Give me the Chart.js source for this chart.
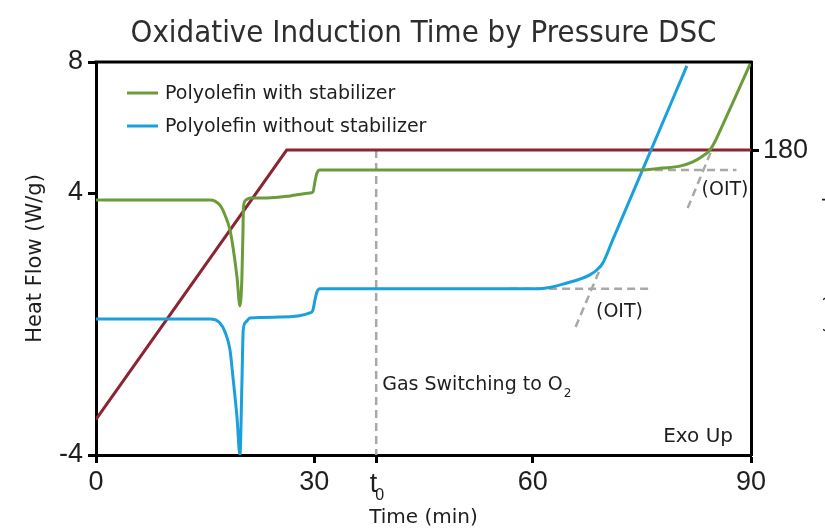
<!DOCTYPE html>
<html><head><meta charset="utf-8">
<script src="https://cdn.jsdelivr.net/npm/chart.js@4.4.0/dist/chart.umd.min.js"></script>
<style>html,body{margin:0;padding:0;background:#fff;}</style>
</head><body>
<canvas id="c" width="825" height="532"></canvas>
<script>
// ---- data ----
const chartTitle = 'Oxidative Induction Time by Pressure DSC';
const seriesLabels = ['Polyolefin with stabilizer', 'Polyolefin without stabilizer'];

const greenTime = [0, 15.66, 17.03, 17.72, 18.41, 18.82, 19.37, 19.78, 20.05, 20.19, 20.26, 20.6, 21.15, 23.49, 26.65, 29.4, 29.81, 30.08, 30.36, 30.77, 50, 74.7, 77.88, 80.22, 82.0, 83.38, 84.34, 85.16, 85.99, 87.5, 90];
const greenFlow = [3.79, 3.79, 3.63, 3.33, 2.87, 2.35, 1.44, 0.55, 1.44, 2.78, 3.57, 3.79, 3.85, 3.85, 3.91, 4.0, 4.03, 4.34, 4.61, 4.70, 4.70, 4.70, 4.76, 4.82, 4.95, 5.13, 5.31, 5.62, 6.02, 6.76, 8.0];

const blueTime = [0, 15.66, 17.03, 17.72, 18.41, 18.82, 19.37, 19.78, 20.05, 20.23, 20.6, 21.15, 25.27, 29.4, 29.81, 30.08, 30.36, 30.77, 45, 61.0, 64.7, 67.86, 68.96, 69.64, 71.0, 79.5, 81.18];
const blueFlow = [0.15, 0.15, 0.03, -0.24, -0.79, -1.62, -2.84, -4.0, -1.80, -0.18, 0.06, 0.18, 0.21, 0.34, 0.43, 0.73, 0.98, 1.08, 1.08, 1.08, 1.25, 1.50, 1.68, 1.86, 2.57, 7.0, 7.88];

const tempTime = [0, 26.2, 90];
const tempValue = [21, 180, 180];

const T0 = 38.5;
const switchTime = [T0, T0];
const switchFlow = [5.31, -4];
const blueBaseTime = [56.9, 76.5];
const blueBaseFlow = [1.08, 1.08];
const blueTanTime = [65.9, 69.6];
const blueTanFlow = [-0.09, 1.86];
const greenBaseTime = [76.8, 88.0];
const greenBaseFlow = [4.70, 4.70];
const greenTanTime = [81.3, 84.6];
const greenTanFlow = [3.54, 5.31];

const xTicks = [0, 30, T0, 60, 90];
const xTickLabels = ['0', '30', 't0', '60', '90'];
const yTicks = [-4, 4, 8];
const y2Ticks = [180];

// ---- style ----
const FONT = 'DejaVu Sans';
const NUMFONT = 'Liberation Sans';
const GREEN = '#6b9c3a';
const BLUE = '#1aa0dc';
const RED = '#8b2433';
const GRAY = '#a8a8a8';
const INK = '#1e1e1e';

const pts = (xs, ys) => xs.map((x, i) => ({x, y: ys[i]}));
const dashed = (xs, ys) => ({data: pts(xs, ys), borderColor: GRAY, borderWidth: 2.5, borderDash: [8, 5], pointRadius: 0, tension: 0, yAxisID: 'y', label: ''});

const annot = {
  id: 'annot',
  afterDraw(chart) {
    const {ctx, chartArea: a, scales: {x, y}} = chart;
    ctx.save();
    // title, centred over the plot frame
    ctx.save();
    ctx.font = '31px ' + FONT; ctx.fillStyle = '#2e2e2e';
    ctx.textAlign = 'center'; ctx.textBaseline = 'alphabetic';
    const tw = ctx.measureText(chartTitle).width;
    const sx = 586 / tw;
    ctx.translate((a.left + a.right) / 2, 42); ctx.scale(sx, 1);
    ctx.fillText(chartTitle, 0, 0);
    ctx.restore();

    // top border of the frame
    ctx.strokeStyle = '#000'; ctx.lineWidth = 3;
    ctx.beginPath(); ctx.moveTo(a.left - 1.5, a.top); ctx.lineTo(a.right + 1.5, a.top); ctx.stroke();

    // legend
    const ds = chart.data.datasets;
    ctx.font = '19px ' + FONT; ctx.textBaseline = 'middle'; ctx.textAlign = 'left';
    [0, 1].forEach((i, k) => {
      const ly = 93 + k * 33;
      ctx.strokeStyle = ds[i].borderColor; ctx.lineWidth = 3;
      ctx.beginPath(); ctx.moveTo(127, ly); ctx.lineTo(158, ly); ctx.stroke();
      ctx.fillStyle = INK; ctx.fillText(ds[i].label, 165, ly + 1);
    });

    // annotations
    ctx.fillStyle = INK;
    ctx.font = '19px ' + FONT;
    ctx.fillText('(OIT)', x.getPixelForValue(68.7), y.getPixelForValue(0.37));
    ctx.fillText('(OIT)', x.getPixelForValue(83.2), y.getPixelForValue(4.09));
    const gx = x.getPixelForValue(T0) + 6, gy = y.getPixelForValue(-1.86);
    const gs = 'Gas Switching to O';
    ctx.fillText(gs, gx, gy);
    const gw = ctx.measureText(gs).width;
    ctx.font = '12px ' + FONT;
    ctx.fillText('2', gx + gw + 1, gy + 9);
    ctx.font = '20px ' + FONT; ctx.textAlign = 'right';
    ctx.fillText('Exo Up', a.right - 18, y.getPixelForValue(-3.45));

    // t0 tick label
    const tx = x.getPixelForValue(T0);
    ctx.textAlign = 'right'; ctx.textBaseline = 'alphabetic';
    ctx.font = '27px ' + NUMFONT;
    ctx.fillText('t', tx + 1, 492);
    ctx.textAlign = 'left'; ctx.font = '16px ' + NUMFONT;
    ctx.fillText('0', tx - 1, 500);

    // right axis title (clipped at the page edge)
    ctx.translate(826, 154); ctx.rotate(Math.PI / 2);
    ctx.font = '21px ' + FONT; ctx.textAlign = 'left'; ctx.textBaseline = 'alphabetic';
    ctx.fillText('Temperature (\u00B0C)', 0, 0);
    ctx.restore();
  }
};

const tickFont = {family: NUMFONT, size: 27};
const gridOpts = {drawOnChartArea: false, tickLength: 8, tickWidth: 3, tickColor: '#000'};
const borderOpts = {display: true, width: 3, color: '#000'};

new Chart(document.getElementById('c'), {
  type: 'line',
  data: {
    datasets: [
      {label: seriesLabels[0], data: pts(greenTime, greenFlow), borderColor: GREEN, borderWidth: 3, pointRadius: 0, cubicInterpolationMode: 'monotone', yAxisID: 'y'},
      {label: seriesLabels[1], data: pts(blueTime, blueFlow), borderColor: BLUE, borderWidth: 3, pointRadius: 0, cubicInterpolationMode: 'monotone', yAxisID: 'y'},
      {label: 'Temperature', data: pts(tempTime, tempValue), borderColor: RED, borderWidth: 3, pointRadius: 0, tension: 0, yAxisID: 'y2'},
      dashed(switchTime, switchFlow),
      dashed(blueBaseTime, blueBaseFlow),
      dashed(blueTanTime, blueTanFlow),
      dashed(greenBaseTime, greenBaseFlow),
      dashed(greenTanTime, greenTanFlow)
    ]
  },
  options: {
    responsive: false, animation: false, devicePixelRatio: 1,
    layout: {padding: {top: 62, left: 0, right: 0, bottom: 0}},
    plugins: {
      legend: {display: false}, tooltip: {enabled: false}, title: {display: false}
    },
    scales: {
      x: {
        type: 'linear', min: 0, max: 90,
        afterBuildTicks: s => { s.ticks = xTicks.map(v => ({value: v})); },
        afterFit: s => { s.height = 77; },
        ticks: {autoSkip: false, maxRotation: 0, padding: 3, color: INK, font: tickFont,
          callback: (v, i) => xTickLabels[i] === 't0' ? '' : xTickLabels[i]},
        grid: gridOpts, border: borderOpts,
        title: {display: true, text: 'Time (min)', color: INK, font: {family: FONT, size: 20}, padding: {top: 0, bottom: 2.4}}
      },
      y: {
        type: 'linear', position: 'left', min: -4, max: 8,
        afterBuildTicks: s => { s.ticks = yTicks.map(v => ({value: v})); },
        afterFit: s => { s.width = 96; },
        ticks: {padding: 5, color: INK, font: tickFont},
        grid: gridOpts, border: borderOpts,
        title: {display: true, text: 'Heat Flow (W/g)', color: INK, font: {family: FONT, size: 21}, padding: {top: 23, bottom: 0}}
      },
      y2: {
        type: 'linear', position: 'right', min: 0, max: 232,
        afterBuildTicks: s => { s.ticks = y2Ticks.map(v => ({value: v})); },
        afterFit: s => { s.width = 74; },
        ticks: {padding: 4, color: INK, font: tickFont},
        grid: gridOpts, border: borderOpts
      }
    }
  },
  plugins: [annot]
});
</script>
</body></html>
